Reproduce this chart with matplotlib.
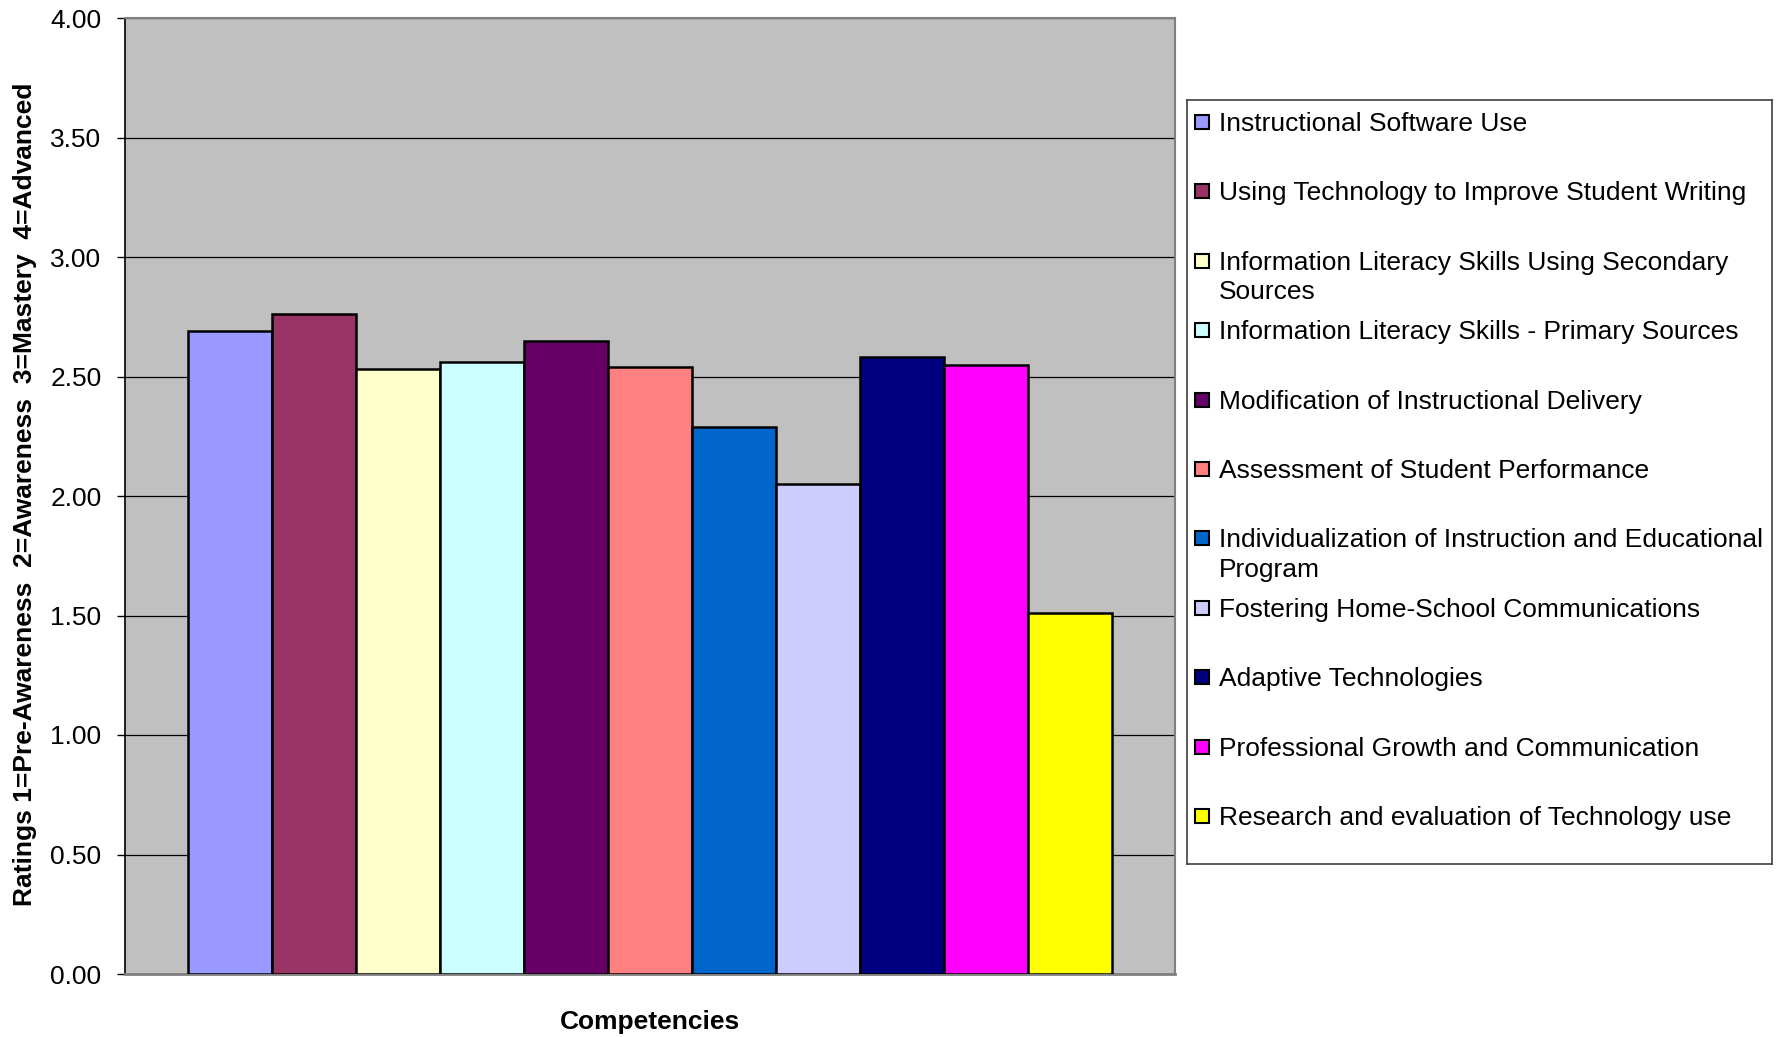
import matplotlib
matplotlib.use("Agg")
import matplotlib.pyplot as plt
from matplotlib.patches import Rectangle

plt.rcParams['font.family'] = ['Liberation Sans', 'DejaVu Sans']

# Mean self-ratings per competency
competencies = [
    "Instructional Software Use",
    "Using Technology to Improve Student Writing",
    "Information Literacy Skills Using Secondary\nSources",
    "Information Literacy Skills - Primary Sources",
    "Modification of Instructional Delivery",
    "Assessment of Student Performance",
    "Individualization of Instruction and Educational\nProgram",
    "Fostering Home-School Communications",
    "Adaptive Technologies",
    "Professional Growth and Communication",
    "Research and evaluation of Technology use",
]
ratings = [2.69, 2.76, 2.53, 2.56, 2.65, 2.54, 2.29, 2.05, 2.58, 2.55, 1.51]
colors = ["#9999FF", "#993366", "#FFFFCC", "#CCFFFF", "#660066", "#FF8080",
          "#0066CC", "#CCCCFF", "#000080", "#FF00FF", "#FFFF00"]
y_ticks = [0.0, 0.5, 1.0, 1.5, 2.0, 2.5, 3.0, 3.5, 4.0]

W, H = 1784, 1037
fig = plt.figure(figsize=(W / 100, H / 100), dpi=100)


def fig_box(x0, y0, x1, y1):
    """Pixel box (top-left origin) -> figure-fraction rect."""
    return [x0 / W, 1 - y1 / H, (x1 - x0) / W, (y1 - y0) / H]


FS = 19

ax = fig.add_axes(fig_box(125, 18, 1175, 974))
ax.set_facecolor("#C0C0C0")
positions = list(range(len(ratings)))
ax.bar(positions, ratings, width=1.0, color=colors, edgecolor="black",
       linewidth=1.8, zorder=3)
ax.set_xlim(-1.25, len(ratings) - 1 + 1.25)
ax.set_ylim(0, 4)
ax.set_yticks(y_ticks)
ax.set_yticklabels([f"{v:.2f}" for v in y_ticks], fontsize=FS)
ax.set_xticks([])
ax.yaxis.grid(True, color="black", linewidth=0.9, zorder=1)
ax.set_axisbelow(True)
ax.tick_params(axis="y", direction="out", length=6, width=1, pad=11,
               color="black")
for side in ("top", "right"):
    ax.spines[side].set_color("#808080")
    ax.spines[side].set_linewidth(1.5)
ax.spines["left"].set_color("black")
ax.spines["left"].set_linewidth(1.2)
ax.spines["bottom"].set_color("#808080")
ax.spines["bottom"].set_linewidth(2)

fig.text(25 / W, 1 - 494 / H,
         "Ratings 1=Pre-Awareness  2=Awareness  3=Mastery  4=Advanced",
         rotation=90, ha="center", va="center", fontsize=FS,
         fontweight="bold")
fig.text(650 / W, 1 - 1022 / H, "Competencies", ha="center", va="center",
         fontsize=FS, fontweight="bold")

# Legend panel in its own pixel-unit axes
lx0, ly0, lx1, ly1 = 1187, 100, 1772, 864
lax = fig.add_axes(fig_box(lx0, ly0, lx1, ly1))
lax.set_xlim(0, lx1 - lx0)
lax.set_ylim(ly1 - ly0, 0)
lax.set_xticks([])
lax.set_yticks([])
for s in lax.spines.values():
    s.set_color("#404040")
    s.set_linewidth(1.2)

first, step, line_gap = 22, 69.4, 29.6
for i, (name, c) in enumerate(zip(competencies, colors)):
    yc = first + step * i
    lax.add_patch(Rectangle((8, yc - 7), 14, 14, facecolor=c,
                            edgecolor="black", linewidth=1.5))
    for k, line in enumerate(name.split("\n")):
        lax.text(32, yc + 9 + k * line_gap, line, fontsize=FS, ha="left",
                 va="baseline")

fig.savefig("out.png", dpi=100)
